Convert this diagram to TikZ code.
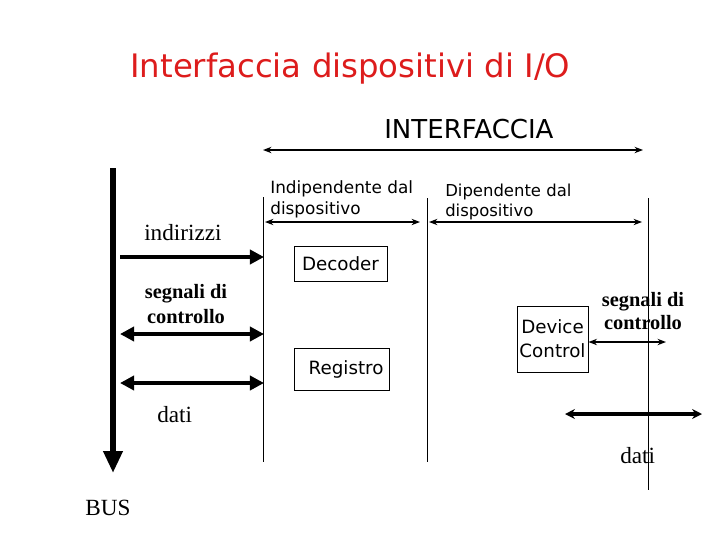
\documentclass[tikz,border=0pt]{standalone}
\usepackage{fontspec}
\setmainfont{Liberation Serif}
\setsansfont{DejaVu Sans}
\usetikzlibrary{arrows.meta,positioning}
\definecolor{titlered}{HTML}{DD1C1C}

\begin{document}
\begin{tikzpicture}[x=0.025cm, y=-0.025cm,
  hand/.style={font=\sffamily\fontsize{12}{15}\selectfont, inner sep=0pt, align=left},
  serif/.style={font=\fontsize{16.5}{19}\selectfont, inner sep=0pt},
  ctl/.style={font=\bfseries\fontsize{14.5}{17.5}\selectfont, inner sep=0pt, align=center},
  box/.style={rectangle, draw, line width=0.7pt, inner sep=0pt, align=center, font=\sffamily\fontsize{13}{17}\selectfont},
  wall/.style={line width=0.7pt},
  thinarr/.style={{Stealth[length=6pt,width=4.5pt]}-{Stealth[length=6pt,width=4.5pt]}, line width=1pt},
  busarr/.style={-{Triangle[length=15.5pt,width=13pt]}, line width=4.3pt},
  fatarr/.style={-{Triangle[length=10pt,width=10pt]}, line width=3.5pt},
  fatdbl/.style={{Triangle[length=10pt,width=10pt]}-{Triangle[length=10pt,width=10pt]}, line width=3.5pt}
]
\useasboundingbox (0,0) rectangle (720,540);
% titles
\node[font=\sffamily\fontsize{23}{27}\selectfont, text=titlered, anchor=base west, inner sep=0pt] (title) at (130,77) {Interfaccia dispositivi di I/O};
\node[font=\sffamily\fontsize{18.5}{22}\selectfont, anchor=base west, inner sep=0pt] (iface) at (384,138) {INTERFACCIA};
\node[hand, anchor=north west] (indip) at (270,180) {Indipendente dal\\dispositivo};
\node[hand, font=\sffamily\fontsize{11.7}{14}\selectfont, anchor=north west] (dip) at (445,184) {Dipendente dal\\dispositivo};
% bus side labels
\node[serif, anchor=base west] (indir) at (144,240) {indirizzi};
\node[ctl, anchor=north] (ctlL) at (186,284) {segnali di\\controllo};
\node[serif, anchor=base west] (datiL) at (157,422) {dati};
\node[serif, anchor=base west] (bus) at (85,515) {BUS};
% device side labels
\node[ctl, font=\bfseries\fontsize{14.5}{16.4}\selectfont, anchor=north] (ctlR) at (643,292) {segnali di\\controllo};
\node[serif, anchor=base west] (datiR) at (620,463) {dati};
% blocks
\node[box, minimum width=2.325cm, minimum height=0.875cm] (decoder) at (340.5,263.5) {Decoder};
\node[box, minimum width=2.375cm, minimum height=1.05cm, text width=2.1cm, align=right] (registro) at (341.5,369) {Registro};
\node[box, minimum width=1.775cm, minimum height=1.65cm] (devctl) at (552.5,339) {Device\\Control};
% walls of the interface
\coordinate (wA) at (263,197); \coordinate (wAb) at (263,462);
\coordinate (wB) at (427,198); \coordinate (wBb) at (427,462);
\coordinate (wC) at (648,198); \coordinate (wCb) at (648,490);
\draw[wall] (wA) -- (wAb);
\draw[wall] (wB) -- (wBb);
\draw[wall] (wC) -- (wCb);
% extent arrows
\coordinate (ifL) at (263,150); \coordinate (ifR) at (643,150);
\draw[thinarr] (ifL) -- (ifR);
\coordinate (inL) at (265,222); \coordinate (inR) at (420,222);
\draw[thinarr, line width=0.8pt] (inL) -- (inR);
\coordinate (dpL) at (429,222); \coordinate (dpR) at (642,222);
\draw[thinarr, line width=0.8pt] (dpL) -- (dpR);
% bus
\coordinate (busT) at (113,168); \coordinate (busB) at (113,473);
\draw[busarr] (busT) -- (busB);
\coordinate (adrL) at (120,257); \coordinate (adrR) at (264,257);
\draw[fatarr] (adrL) -- (adrR);
\coordinate (cL) at (120,334); \coordinate (cR) at (264,334);
\draw[fatdbl] (cL) -- (cR);
\coordinate (dL) at (120,383); \coordinate (dR) at (264,383);
\draw[fatdbl] (dL) -- (dR);
% device side
\coordinate (dcR) at (666,342);
\draw[thinarr, line width=1.4pt] (devctl.east |- dcR) -- (dcR);
\coordinate (ddL) at (565,414); \coordinate (ddR) at (702,414);
\draw[{Stealth[length=7pt,width=7pt]}-{Stealth[length=7pt,width=7pt]}, line width=2.8pt] (ddL) -- (ddR);
\end{tikzpicture}
\end{document}
